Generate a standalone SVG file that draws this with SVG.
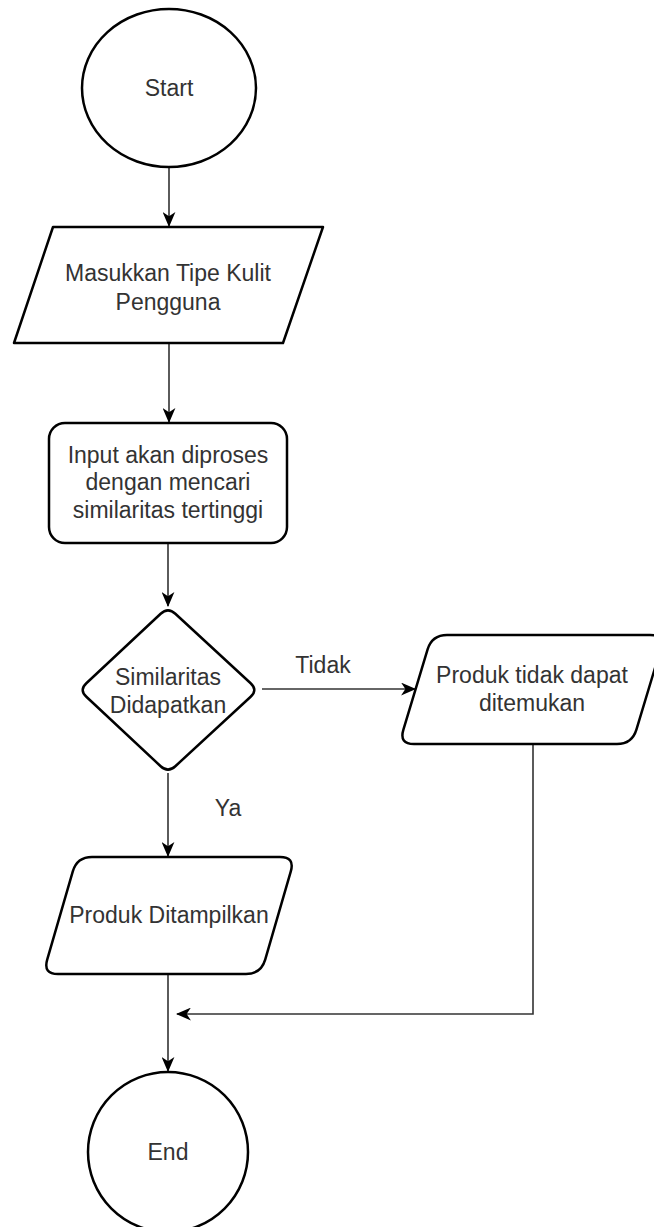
<svg xmlns="http://www.w3.org/2000/svg" width="654" height="1227" viewBox="0 0 654 1227">
<style>
.s{fill:#fff;stroke:#000;stroke-width:2.5;stroke-linejoin:round}
.t{font-family:"Liberation Sans",Arial,sans-serif;font-size:23px;fill:#333;text-anchor:middle}
.c{fill:none;stroke:#333;stroke-width:1.6}
</style>
<defs>
<marker id="arr" markerUnits="userSpaceOnUse" viewBox="0 0 14 12" refX="13" refY="6" markerWidth="15" markerHeight="13" orient="auto">
<path d="M0,0 L14,6 L0,12 L4,6 Z" fill="#000"/>
</marker>
</defs>
<rect width="654" height="1227" fill="#fff"/>
<g id="connectors">
<path class="c" d="M169,167 L169,226" marker-end="url(#arr)"/>
<path class="c" d="M169,343 L169,422" marker-end="url(#arr)"/>
<path class="c" d="M168,543 L168,606" marker-end="url(#arr)"/>
<path class="c" d="M262,689 L415,689" marker-end="url(#arr)"/>
<path class="c" d="M168,773 L168,856" marker-end="url(#arr)"/>
<path class="c" d="M168,974 L168,1071" marker-end="url(#arr)"/>
<path class="c" d="M533,744 L533,1014 L177,1014" marker-end="url(#arr)"/>
<text class="t" x="323" y="673">Tidak</text>
<text class="t" x="228" y="816">Ya</text>
</g>
<g id="start">
<ellipse class="s" cx="169" cy="88" rx="87" ry="79"/>
<text class="t" x="169" y="96">Start</text>
</g>
<g id="input">
<path class="s" d="M53,227 L323,227 L283,343 L14,343 Z"/>
<text class="t" x="168" y="281">Masukkan Tipe Kulit</text>
<text class="t" x="168" y="310">Pengguna</text>
</g>
<g id="process">
<rect class="s" x="49" y="423" width="238" height="120" rx="16" ry="16"/>
<text class="t" x="168" y="463">Input akan diproses</text>
<text class="t" x="168" y="490">dengan mencari</text>
<text class="t" x="168" y="518">similaritas tertinggi</text>
</g>
<g id="decision">
<path class="s" d="M175.35,613.78 L250.65,683.22 Q258,690 250.65,696.78 L175.35,766.22 Q168,773 160.65,766.22 L86.35,696.78 Q79,690 86.35,683.22 L160.65,613.78 Q168,607 175.35,613.78 Z"/>
<text class="t" x="168" y="685">Similaritas</text>
<text class="t" x="168" y="713">Didapatkan</text>
</g>
<g id="notfound">
<path class="s" d="M447,635 L650,635 Q665,635 660.6,649.4 L636.4,729.6 Q632,744 617,744 L414,744 Q399,744 403.4,729.6 L427.6,649.4 Q432,635 447,635 Z"/>
<text class="t" x="532" y="683">Produk tidak dapat</text>
<text class="t" x="532" y="711">ditemukan</text>
</g>
<g id="shown">
<path class="s" d="M92,857 L280,857 Q295,857 290.8,871.4 L265.2,959.6 Q261,974 246,974 L58,974 Q43,974 47.2,959.6 L72.8,871.4 Q77,857 92,857 Z"/>
<text class="t" x="169" y="923">Produk Ditampilkan</text>
</g>
<g id="end">
<ellipse class="s" cx="168" cy="1152" rx="80" ry="80"/>
<text class="t" x="168" y="1160">End</text>
</g>
</svg>
